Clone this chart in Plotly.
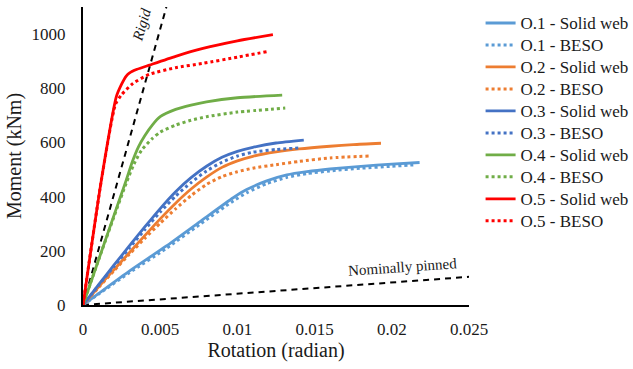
import plotly.graph_objects as go

# ---- data (rotation in radian, moment in kNm) ----
o1_solid_x = [0, 0.001, 0.003, 0.0054, 0.00758, 0.00973, 0.0106, 0.0119, 0.0132, 0.0145, 0.016, 0.018, 0.02, 0.0218]
o1_solid_y = [0, 42, 125, 218, 308, 396, 426, 458, 480, 492, 502, 512, 520, 526]
o1_beso_x = [0, 0.001, 0.003, 0.0054, 0.00758, 0.00973, 0.0106, 0.0119, 0.0132, 0.0145, 0.016, 0.018, 0.02, 0.0216]
o1_beso_y = [0, 40, 119, 209, 298, 384, 414, 448, 471, 485, 495, 505, 512, 518]

o2_solid_x = [0, 0.001, 0.002, 0.003, 0.004, 0.005, 0.006, 0.007, 0.008, 0.009, 0.01, 0.011, 0.0125, 0.014, 0.016, 0.0175, 0.0193]
o2_solid_y = [0, 66, 130, 193, 256, 318, 376, 428, 472, 508, 532, 549, 565, 576, 586, 592, 597]
o2_beso_x = [0, 0.001, 0.002, 0.003, 0.004, 0.005, 0.006, 0.007, 0.008, 0.009, 0.01, 0.011, 0.0125, 0.014, 0.016, 0.0186]
o2_beso_y = [0, 64, 126, 187, 246, 302, 355, 404, 445, 474, 492, 505, 518, 530, 543, 550]

o3_solid_x = [0, 0.001, 0.002, 0.003, 0.004, 0.005, 0.006, 0.007, 0.008, 0.009, 0.01, 0.011, 0.0125, 0.0143]
o3_solid_y = [0, 74, 147, 218, 288, 356, 418, 470, 512, 545, 567, 582, 598, 609]
o3_beso_x = [0, 0.001, 0.002, 0.003, 0.004, 0.005, 0.006, 0.007, 0.008, 0.009, 0.01, 0.011, 0.0125, 0.0141]
o3_beso_y = [0, 72, 142, 210, 278, 343, 402, 452, 495, 527, 550, 564, 574, 580]

o4_solid_x = [0, 0.001, 0.002, 0.0028, 0.0032, 0.0036, 0.004, 0.0045, 0.005, 0.006, 0.007, 0.008, 0.01, 0.0129]
o4_solid_y = [0, 165, 330, 461, 530, 585, 625, 665, 695, 722, 738, 750, 765, 775]
o4_beso_x = [0, 0.001, 0.002, 0.0028, 0.0033, 0.0038, 0.0045, 0.005, 0.006, 0.007, 0.008, 0.01, 0.0131]
o4_beso_y = [0, 165, 325, 450, 520, 572, 615, 638, 664, 682, 695, 712, 727]

o5_solid_x = [0, 0.00119, 0.00216, 0.0025, 0.0028, 0.00302, 0.0035, 0.00432, 0.006, 0.00777, 0.01, 0.0123]
o5_solid_y = [0, 461, 769, 815, 845, 857, 870, 886, 918, 947, 975, 998]
o5_beso_x = [0, 0.00119, 0.0021, 0.00248, 0.00324, 0.00432, 0.006, 0.00777, 0.01, 0.0119]
o5_beso_y = [0, 461, 740, 775, 818, 852, 876, 892, 915, 935]

rigid_x = [0, 0.0054]
rigid_y = [0, 1100]
pinned_x = [0, 0.025]
pinned_y = [0, 104]

x_ticks = [0, 0.005, 0.01, 0.015, 0.02, 0.025]
x_tick_labels = ["0", "0.005", "0.01", "0.015", "0.02", "0.025"]
y_ticks = [0, 200, 400, 600, 800, 1000]

series = [
    ("O.1 - Solid web", o1_solid_x, o1_solid_y, "#5B9BD5", "solid"),
    ("O.1 - BESO", o1_beso_x, o1_beso_y, "#5B9BD5", "dot"),
    ("O.2 - Solid web", o2_solid_x, o2_solid_y, "#ED7D31", "solid"),
    ("O.2 - BESO", o2_beso_x, o2_beso_y, "#ED7D31", "dot"),
    ("O.3 - Solid web", o3_solid_x, o3_solid_y, "#4472C4", "solid"),
    ("O.3 - BESO", o3_beso_x, o3_beso_y, "#4472C4", "dot"),
    ("O.4 - Solid web", o4_solid_x, o4_solid_y, "#70AD47", "solid"),
    ("O.4 - BESO", o4_beso_x, o4_beso_y, "#70AD47", "dot"),
    ("O.5 - Solid web", o5_solid_x, o5_solid_y, "#FF0000", "solid"),
    ("O.5 - BESO", o5_beso_x, o5_beso_y, "#FF0000", "dot"),
]

FONT = "Liberation Serif, Times New Roman, serif"
TXT = "#1a1a1a"

fig = go.Figure()

fig.add_trace(go.Scatter(x=rigid_x, y=rigid_y, mode="lines", showlegend=False,
                         line=dict(color="black", width=2, dash="6px,5px"), hoverinfo="skip"))
fig.add_trace(go.Scatter(x=pinned_x, y=pinned_y, mode="lines", showlegend=False,
                         line=dict(color="black", width=2, dash="6px,5px"), hoverinfo="skip"))

for name, xs, ys, color, dash in series:
    fig.add_trace(go.Scatter(
        x=xs, y=ys, mode="lines",
        name='<span style="font-size:17px">' + name + '</span>',
        line=dict(color=color, width=2.8 if dash == "solid" else 3,
                  dash=dash, shape="spline", smoothing=0.6),
    ))

fig.add_annotation(x=0.0038, y=1033, text="<i>Rigid</i>", showarrow=False,
                   textangle=-74, font=dict(family=FONT, size=15, color=TXT))
fig.add_annotation(x=0.0207, y=140, text="Nominally pinned", showarrow=False,
                   textangle=-4, font=dict(family=FONT, size=15, color=TXT))

fig.update_layout(
    width=633, height=369,
    margin=dict(l=83, r=164, t=7, b=64, autoexpand=False),
    paper_bgcolor="white", plot_bgcolor="white",
    font=dict(family=FONT, size=17, color=TXT),
    showlegend=True,
    legend=dict(x=1.03, y=1.0, xanchor="left", yanchor="top",
                font=dict(family=FONT, size=14.6, color=TXT),
                tracegroupgap=0, itemwidth=30, bgcolor="rgba(0,0,0,0)"),
    xaxis=dict(range=[0, 0.025], tickvals=x_ticks, ticktext=x_tick_labels,
               showgrid=False, zeroline=False, showline=True, linecolor="black",
               linewidth=2, ticks="", ticklabelstandoff=8,
               tickfont=dict(family=FONT, size=17, color=TXT),
               title=dict(text="Rotation (radian)", font=dict(family=FONT, size=20, color=TXT),
                          standoff=4)),
    yaxis=dict(range=[0, 1100], tickvals=y_ticks,
               showgrid=False, zeroline=False, showline=True, linecolor="black",
               linewidth=2, ticks="", ticklabelstandoff=12,
               tickfont=dict(family=FONT, size=17, color=TXT),
               title=dict(text="Moment (kNm)", font=dict(family=FONT, size=20, color=TXT),
                          standoff=5)),
)

fig.write_html("out.html")
